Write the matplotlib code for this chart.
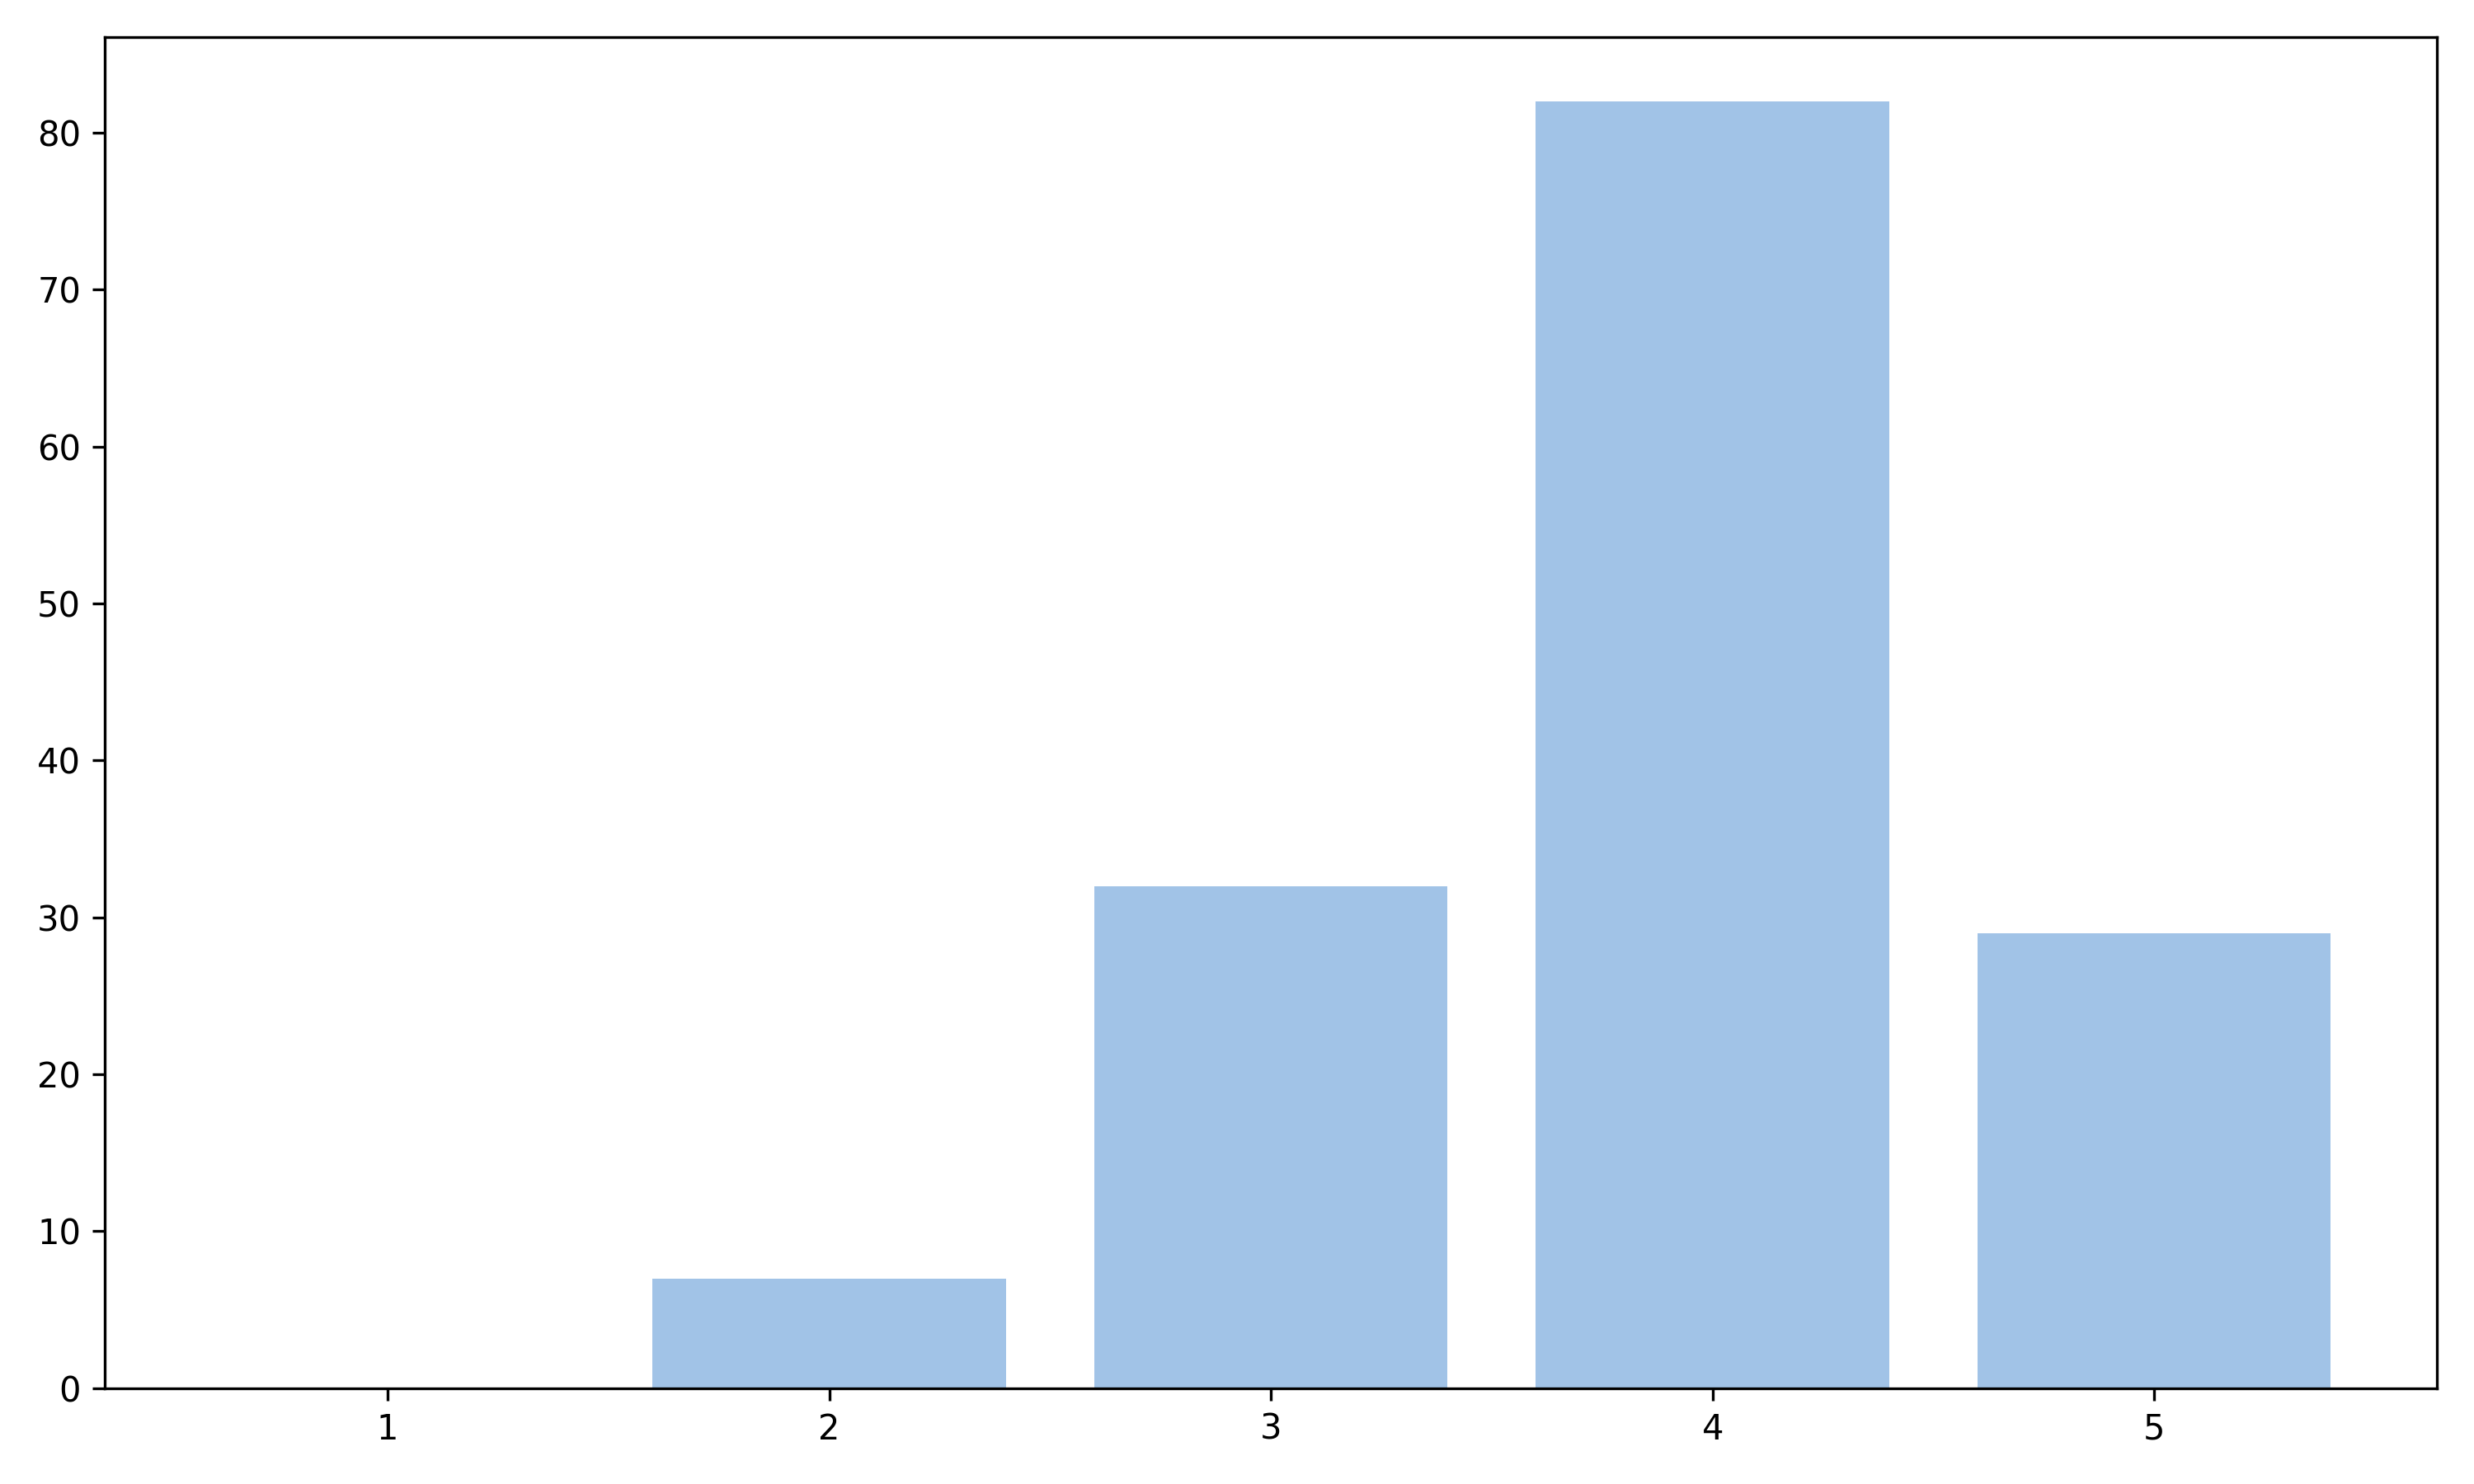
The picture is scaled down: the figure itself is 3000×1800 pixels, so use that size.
import matplotlib
matplotlib.use("Agg")
import matplotlib.pyplot as plt

# bar data
ratings = [1, 2, 3, 4, 5]
counts = [0, 7, 32, 82, 29]

fig, ax = plt.subplots(figsize=(10, 6), dpi=300)
ax.bar(ratings, counts, color="#a1c3e7", width=0.8)
ax.set_xticks(ratings)
fig.tight_layout()
fig.savefig("out.png", dpi=300)
